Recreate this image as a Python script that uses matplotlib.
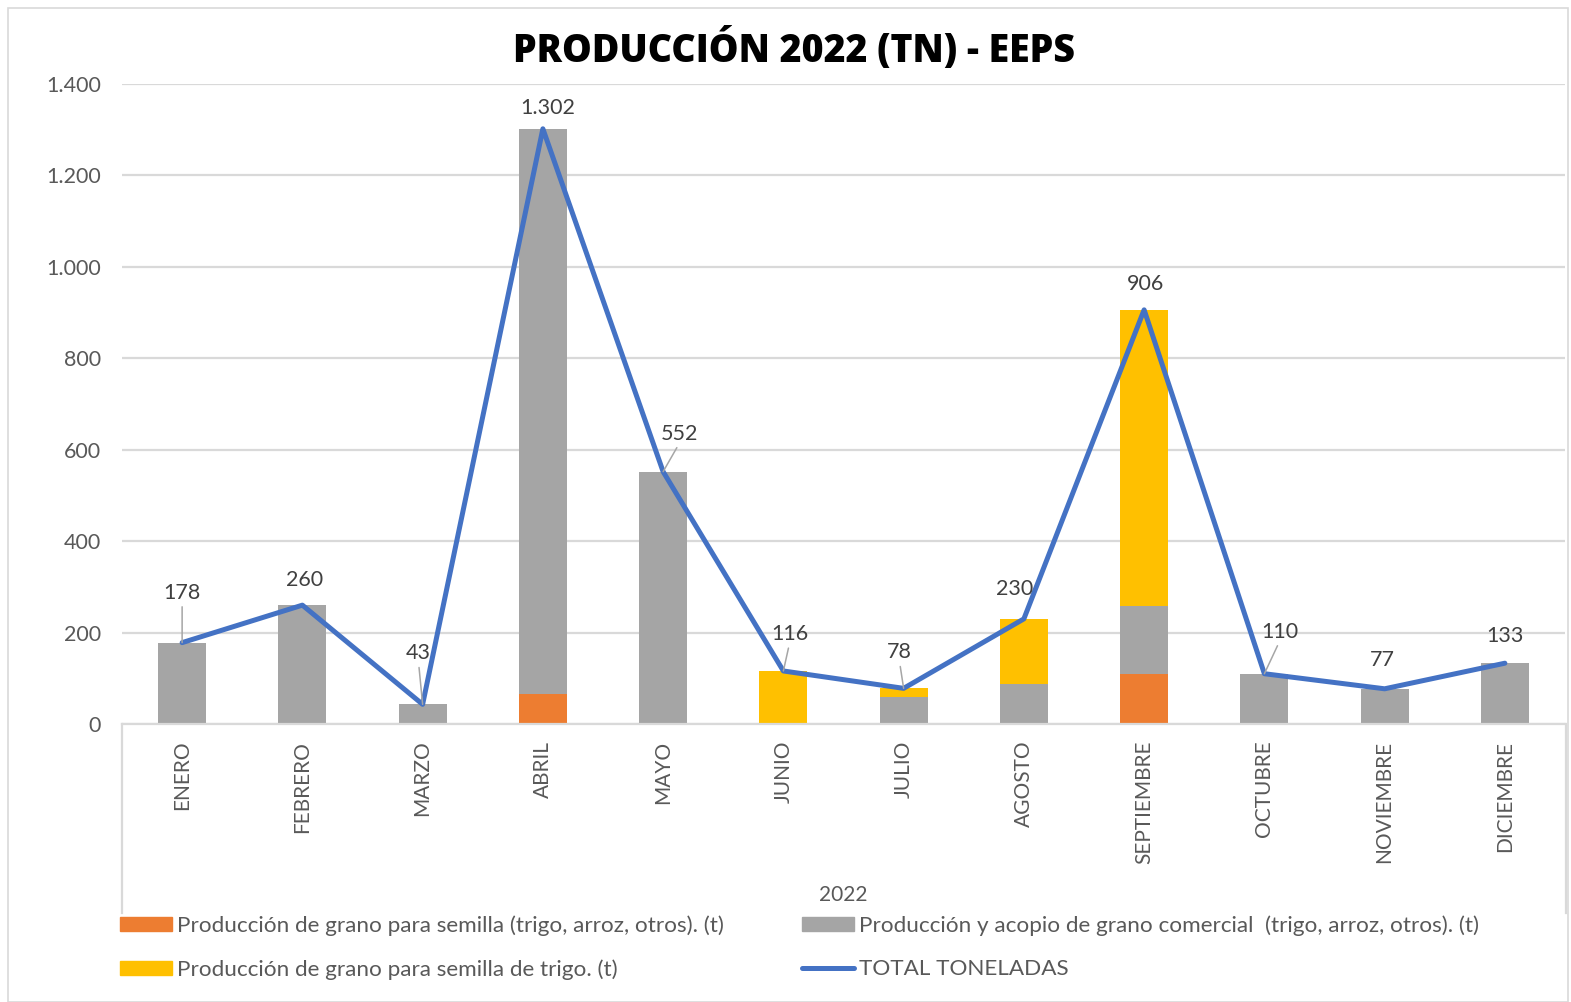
import matplotlib
matplotlib.use("Agg")
import matplotlib.pyplot as plt
from matplotlib.lines import Line2D
from matplotlib.patches import Rectangle, Patch
import numpy as np

months = ["ENERO", "FEBRERO", "MARZO", "ABRIL", "MAYO", "JUNIO", "JULIO",
          "AGOSTO", "SEPTIEMBRE", "OCTUBRE", "NOVIEMBRE", "DICIEMBRE"]
semilla = [0, 0, 0, 65, 0, 0, 0, 0, 110, 0, 0, 0]
comercial = [178, 260, 43, 1237, 552, 0, 59, 87, 148, 110, 77, 133]
semilla_trigo = [0, 0, 0, 0, 0, 116, 19, 143, 648, 0, 0, 0]
total = [178, 260, 43, 1302, 552, 116, 78, 230, 906, 110, 77, 133]
total_labels = ["178", "260", "43", "1.302", "552", "116", "78", "230", "906", "110", "77", "133"]
yticks = [0, 200, 400, 600, 800, 1000, 1200, 1400]
ytick_labels = ["0", "200", "400", "600", "800", "1.000", "1.200", "1.400"]

label_names = ["Producción de grano para semilla (trigo, arroz, otros). (t)",
               "Producción y acopio de grano comercial  (trigo, arroz, otros). (t)",
               "Producción de grano para semilla de trigo. (t)",
               "TOTAL TONELADAS"]

# label offsets (pixels) and whether a leader line is drawn
label_offsets = [(0, 50), (2, 25), (-4, 51), (5, 21), (16, 38), (6, 37),
                 (-4, 36), (-9, 30), (1, 26), (15, 42), (-2, 29), (0, 27)]
leaders = [True, False, True, False, True, True, True, False, False, True, False, False]

C_OR = "#ED7D31"
C_GR = "#A5A5A5"
C_YE = "#FFC000"
C_LI = "#4472C4"
TXT = "#595959"
FONT = "Lato"

W, H = 1571, 1002
fig = plt.figure(figsize=(W / 100, H / 100), dpi=100)
plt.rcParams['font.family'] = [FONT, 'DejaVu Sans']

# chart border
fig.add_artist(Rectangle((8 / W, 0), (1568 - 8) / W, 1 - 8 / H, transform=fig.transFigure,
                         fill=False, edgecolor="#D9D9D9", lw=1.2))

ax = fig.add_axes([122 / W, 1 - 724 / H, (1565 - 122) / W, (724 - 84) / H])
x = np.arange(len(months))
bw = 0.4
ax.bar(x, semilla, bw, color=C_OR, zorder=2)
ax.bar(x, comercial, bw, bottom=semilla, color=C_GR, zorder=2)
bot2 = np.array(semilla) + np.array(comercial)
ax.bar(x, semilla_trigo, bw, bottom=bot2, color=C_YE, zorder=2)
ax.plot(x, total, color=C_LI, lw=3.6, zorder=3, solid_joinstyle="round", solid_capstyle="round")

for i, (v, lab) in enumerate(zip(total, total_labels)):
    dx, dy = label_offsets[i]
    kw = {}
    if leaders[i]:
        kw["arrowprops"] = dict(arrowstyle="-", color="#A6A6A6", lw=1.1,
                                shrinkA=1, shrinkB=0, relpos=(0.5, 0))
    ax.annotate(lab, xy=(i, v), xytext=(dx, dy), textcoords="offset pixels",
                ha="center", va="center", fontsize=15.5, color="#404040", zorder=4, **kw)

ax.set_xlim(-0.5, 11.5)
ax.set_ylim(0, 1400)
ax.set_yticks(yticks)
ax.set_yticklabels(ytick_labels, fontsize=15.5, color=TXT)
ax.yaxis.grid(True, color="#D9D9D9", lw=1.6, zorder=0)
ax.set_axisbelow(True)
for s in ["left", "right", "top"]:
    ax.spines[s].set_visible(False)
ax.spines["bottom"].set_color("#D9D9D9")
ax.spines["bottom"].set_linewidth(1.6)
ax.tick_params(axis="y", length=0, pad=15)
ax.tick_params(axis="x", length=0, pad=12)
ax.set_xticks(x)
ax.set_xticklabels(months, rotation=90, fontsize=15, color=TXT, va="top", ha="center")

# multi-level category dividers
for xp in (122, 1566):
    fig.add_artist(Line2D([xp / W, xp / W], [1 - 724 / H, 1 - 913 / H], transform=fig.transFigure,
                          color="#D9D9D9", lw=1.6))
fig.text(843 / W, 1 - 895 / H, "2022", ha="center", va="center", fontsize=15, color=TXT)

fig.text(794 / W, 1 - 50 / H, "PRODUCCIÓN 2022 (TN) - EEPS", ha="center", va="center",
         fontsize=27, fontweight="heavy", color="black", family=["Open Sans", "DejaVu Sans"])

# legend
h_or = Patch(color=C_OR)
h_gr = Patch(color=C_GR)
h_ye = Patch(color=C_YE)
h_li = Line2D([0], [0], color=C_LI, lw=3.6, solid_capstyle="round")
common = dict(loc="upper left", frameon=False, fontsize=16.2, handlelength=2.3, handleheight=0.6,
              handletextpad=0.22, labelspacing=1.05, borderaxespad=0, borderpad=0,
              labelcolor=TXT)
leg1 = fig.legend([h_or, h_ye], [label_names[0], label_names[2]],
                  bbox_to_anchor=(120 / W, 1 - 915 / H), **common)
leg2 = fig.legend([h_gr, h_li], [label_names[1], label_names[3]],
                  bbox_to_anchor=(802 / W, 1 - 915 / H), **common)

fig.savefig("out.png", dpi=100)
